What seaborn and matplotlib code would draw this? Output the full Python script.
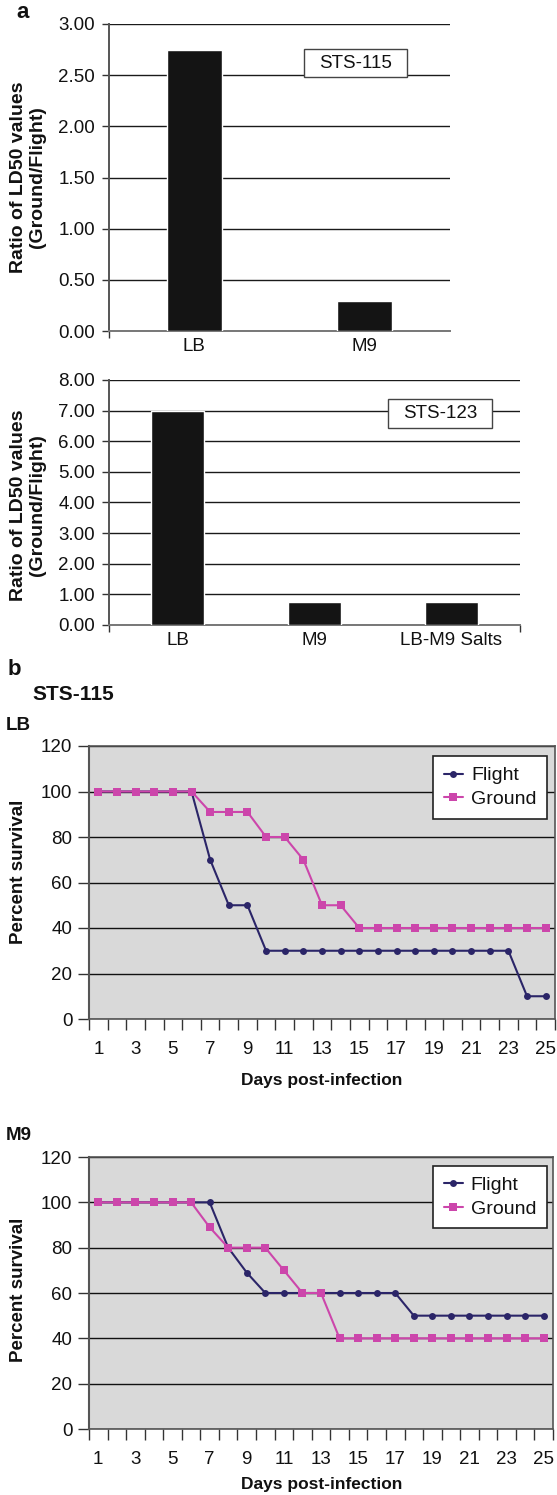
import numpy as np
import pandas as pd
import matplotlib
matplotlib.use('Agg')
import matplotlib.pyplot as plt
import seaborn as sns
from matplotlib.patches import Rectangle

# ---------------- data ----------------
sts115_cats = ['LB', 'M9']
sts115_vals = [2.75, 0.29]

sts123_cats = ['LB', 'M9', 'LB-M9 Salts']
sts123_vals = [7.00, 0.74, 0.74]

days = list(range(1, 26))
lb_flight = [100, 100, 100, 100, 100, 100, 70, 50, 50, 30, 30, 30, 30, 30, 30, 30, 30, 30, 30, 30, 30, 30, 30, 10, 10]
lb_ground = [100, 100, 100, 100, 100, 100, 91, 91, 91, 80, 80, 70, 50, 50, 40, 40, 40, 40, 40, 40, 40, 40, 40, 40, 40]
m9_flight = [100, 100, 100, 100, 100, 100, 100, 80, 69, 60, 60, 60, 60, 60, 60, 60, 60, 50, 50, 50, 50, 50, 50, 50, 50]
m9_ground = [100, 100, 100, 100, 100, 100, 89, 80, 80, 80, 70, 60, 60, 40, 40, 40, 40, 40, 40, 40, 40, 40, 40, 40, 40]

bar_yticks_top = [0, 0.5, 1.0, 1.5, 2.0, 2.5, 3.0]
bar_yticks_bot = [0, 1, 2, 3, 4, 5, 6, 7, 8]
surv_yticks = [0, 20, 40, 60, 80, 100, 120]
day_ticklabels = [str(d) for d in days if d % 2 == 1]

FLIGHT = '#2b2568'
GROUND = '#cc46ab'
BAR = '#141414'

# ---------------- setup ----------------
sns.set_theme(style='white')
plt.rcParams['font.family'] = ['Liberation Sans', 'DejaVu Sans']
plt.rcParams['text.color'] = '#111111'
plt.rcParams['xtick.color'] = '#333333'
plt.rcParams['ytick.color'] = '#333333'
plt.rcParams['xtick.labelcolor'] = '#111111'
plt.rcParams['ytick.labelcolor'] = '#111111'

W, H = 557, 1495
fig = plt.figure(figsize=(W / 100, H / 100), dpi=100)


def px_axes(l, t, r, b):
    return fig.add_axes([l / W, 1 - b / H, (r - l) / W, (b - t) / H])


def bar_panel(ax, cats, vals, yticks, width, box, boxtext, minor_ticks):
    sns.barplot(x=cats, y=vals, color=BAR, saturation=1, width=width, ax=ax, zorder=3)
    ax.set_xlim(-0.5, len(cats) - 0.5)
    ax.set_ylim(0, yticks[-1])
    ax.set_yticks(yticks)
    ax.set_yticklabels([f'{v:.2f}' for v in yticks])
    ax.set_axisbelow(True)
    ax.grid(axis='y', color='#1a1a1a', lw=1.0)
    ax.grid(axis='x', visible=False)
    for s in ['top', 'right']:
        ax.spines[s].set_visible(False)
    ax.spines['left'].set_color('#555555')
    ax.spines['left'].set_linewidth(1.4)
    ax.spines['bottom'].set_color('#777777')
    ax.spines['bottom'].set_linewidth(1.4)
    ax.tick_params(axis='y', left=True, length=5, width=1, pad=5, labelsize=13.5)
    ax.tick_params(axis='x', which='major', bottom=True, length=0, pad=5, labelsize=13.5)
    ax.set_xticks(minor_ticks, minor=True)
    ax.tick_params(axis='x', which='minor', bottom=True, length=5, width=1)
    ax.set_xlabel('')
    ax.set_ylabel('')
    x0, y0, w, h = box
    ax.add_patch(Rectangle((x0, y0), w, h, transform=ax.transAxes, facecolor='white',
                           edgecolor='#444444', lw=1.0, zorder=5, clip_on=False))
    ax.text(x0 + w / 2, y0 + h / 2, boxtext, transform=ax.transAxes, ha='center', va='center',
            fontsize=13.5, zorder=6)


def line_panel(ax, flight, ground, anchor):
    ax.set_facecolor('#d9d9d9')
    sns.lineplot(x=days, y=flight, color=FLIGHT, marker='o', markersize=5, markeredgewidth=0,
                 lw=1.5, label='Flight', ax=ax, zorder=3)
    sns.lineplot(x=days, y=ground, color=GROUND, marker='s', markersize=5.5, markeredgewidth=0,
                 lw=1.5, label='Ground', ax=ax, zorder=4)
    ax.set_xlim(0.5, 25.5)
    ax.set_ylim(0, 120)
    ax.set_yticks(surv_yticks)
    ax.set_yticklabels([str(v) for v in surv_yticks])
    ax.grid(axis='y', color='#111111', lw=1.0)
    ax.grid(axis='x', visible=False)
    ax.set_xticks([d for d in days if d % 2 == 1])
    ax.set_xticklabels(day_ticklabels)
    ax.set_xticks(np.arange(0.5, 26), minor=True)
    ax.tick_params(axis='x', which='major', bottom=True, length=0, pad=16, labelsize=13.5)
    ax.tick_params(axis='x', which='minor', bottom=True, length=8, width=1)
    ax.tick_params(axis='y', left=True, length=8, width=1, pad=4, labelsize=13.5)
    for s in ax.spines.values():
        s.set_color('#555555')
        s.set_linewidth(1.2)
    ax.spines['left'].set_linewidth(1.5)
    ax.set_xlabel('')
    ax.set_ylabel('')
    leg = ax.legend(loc='upper right', bbox_to_anchor=anchor, frameon=True, fancybox=False,
                    edgecolor='#222222', framealpha=1, fontsize=14, handlelength=1.0,
                    handletextpad=0.4, borderpad=0.55, labelspacing=0.3, borderaxespad=0)
    leg.get_frame().set_linewidth(1.2)


# ---------------- panel a ----------------
ax1 = px_axes(109, 24, 450, 331)
bar_panel(ax1, sts115_cats, sts115_vals, bar_yticks_top, 0.32,
          (0.572, 0.827, 0.302, 0.091), 'STS-115', [-0.5])

ax2 = px_axes(109, 380, 520, 625)
bar_panel(ax2, sts123_cats, sts123_vals, bar_yticks_bot, 0.39,
          (0.679, 0.804, 0.253, 0.118), 'STS-123', [-0.5, 2.5])

# ---------------- panel b ----------------
ax3 = px_axes(89, 746, 555, 1019)
line_panel(ax3, lb_flight, lb_ground, (0.983, 0.963))

ax4 = px_axes(89, 1157, 553, 1429)
line_panel(ax4, m9_flight, m9_ground, (0.987, 0.967))


def ftext(x, y, s, **kw):
    fig.text(x / W, 1 - y / H, s, **kw)


ylab = 'Ratio of LD50 values\n(Ground/Flight)'
ftext(28, 177, ylab, rotation=90, ha='center', va='center', fontsize=14, fontweight='bold',
      multialignment='center', linespacing=1.15)
ftext(28, 505, ylab, rotation=90, ha='center', va='center', fontsize=14, fontweight='bold',
      multialignment='center', linespacing=1.15)
ftext(19, 872, 'Percent survival', rotation=90, ha='center', va='center', fontsize=13.5,
      fontweight='bold')
ftext(19, 1290, 'Percent survival', rotation=90, ha='center', va='center', fontsize=13.5,
      fontweight='bold')
ftext(322, 1080, 'Days post-infection', ha='center', va='center', fontsize=12.5, fontweight='bold')
ftext(322, 1485, 'Days post-infection', ha='center', va='center', fontsize=12.5, fontweight='bold')

ftext(16, 18, 'a', ha='left', va='baseline', fontsize=16, fontweight='bold')
ftext(8, 675, 'b', ha='left', va='baseline', fontsize=16, fontweight='bold')
ftext(32, 700, 'STS-115', ha='left', va='baseline', fontsize=15, fontweight='bold')
ftext(6, 730, 'LB', ha='left', va='baseline', fontsize=13.5, fontweight='bold')
ftext(6, 1140, 'M9', ha='left', va='baseline', fontsize=13.5, fontweight='bold')

fig.savefig('out.png', dpi=100, facecolor='white')
